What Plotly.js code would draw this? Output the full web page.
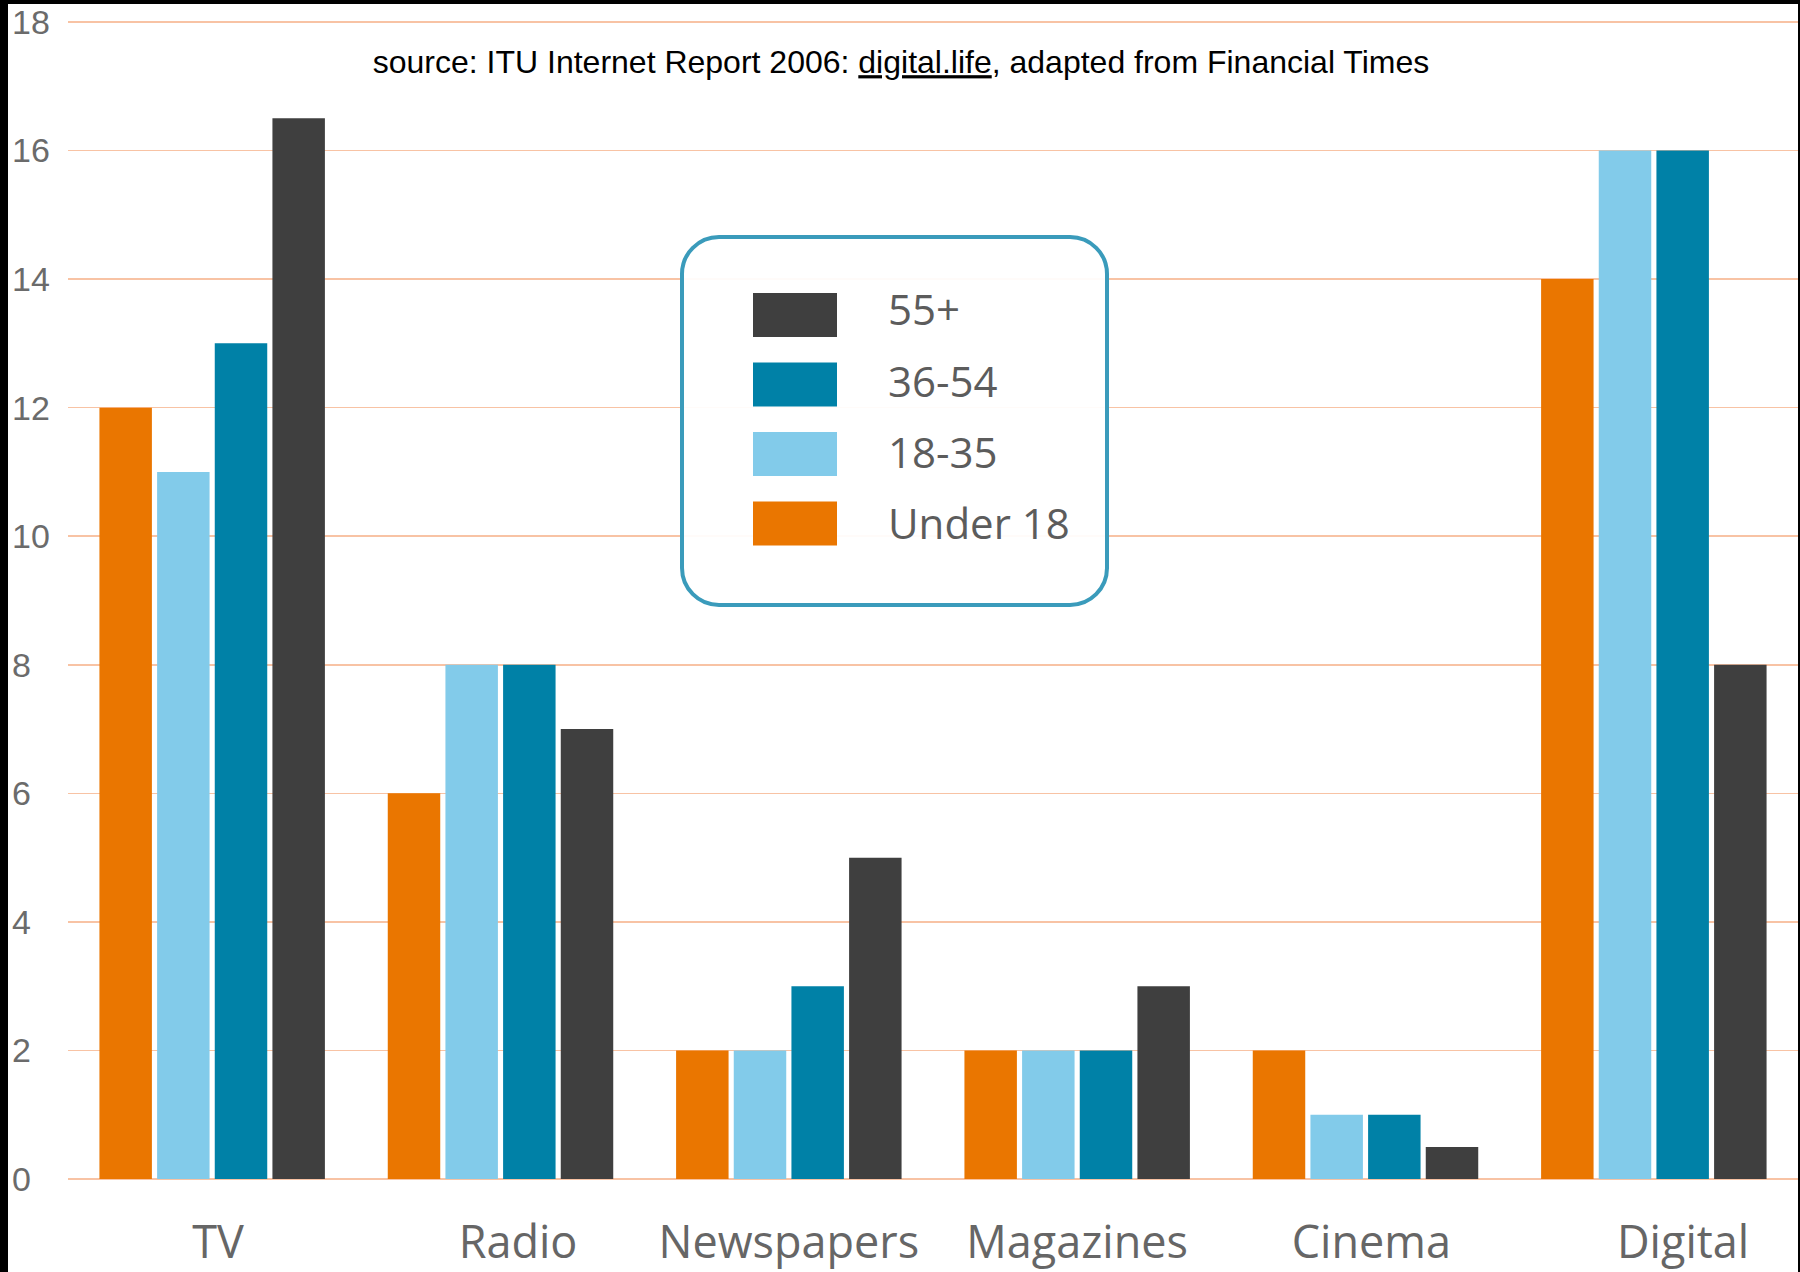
<!DOCTYPE html>
<html>
<head>
<meta charset="utf-8">
<script src="https://cdn.plot.ly/plotly-3.0.1.min.js"></script>
<style>
  html, body { margin: 0; padding: 0; background: #000; width: 1800px; height: 1272px; overflow: hidden; }
  #chart { position: absolute; left: 8px; top: 4px; width: 1790px; height: 1268px; }
</style>
</head>
<body>
<div id="chart"></div>
<script>
// ---- data ----
const categories = ["TV", "Radio", "Newspapers", "Magazines", "Cinema", "Digital"];
const seriesNames = ["Under 18", "18-35", "36-54", "55+"];
const under18 = [12, 6, 2, 2, 2, 14];
const age18to35 = [11, 8, 2, 2, 1, 16];
const age36to54 = [13, 8, 3, 2, 1, 16];
const age55plus = [16.5, 7, 5, 3, 0.5, 8];
const seriesColors = ["#ea7600", "#82cbea", "#0081a7", "#3f3f3f"];
const yTickVals = [0, 2, 4, 6, 8, 10, 12, 14, 16, 18];

const seriesValues = [under18, age18to35, age36to54, age55plus];

const traces = seriesNames.map((name, i) => ({
  type: "bar",
  name: name,
  x: categories,
  y: seriesValues[i],
  marker: { color: seriesColors[i], line: { width: 0 } },
  showlegend: false,
  hoverinfo: "x+y+name"
}));

// ---- geometry (pixels within the chart div) ----
const W = 1790, H = 1268;
const plotL = 60, plotT = 16, plotB = 1177;
const px = X => X / W;                        // paper x spans full width (margin l = r = 0)
const py = Y => (plotB - Y) / (plotB - plotT);

// small hand offsets of the category labels seen in the original (in non-breaking spaces)
const labelLead = [1, 3, 0, 0, 1, 5];
const tickText = categories.map((c, i) => "\u00a0".repeat(labelLead[i]) + c);

// rounded legend frame
const bx0 = 674, by0 = 233, bx1 = 1099, by1 = 601, r = 37, k = 0.5523;
function P(X, Y) { return px(X).toFixed(5) + "," + py(Y).toFixed(5); }
const framePath =
  "M" + P(bx0 + r, by0) +
  " L" + P(bx1 - r, by0) +
  " C" + P(bx1 - r + r * k, by0) + " " + P(bx1, by0 + r - r * k) + " " + P(bx1, by0 + r) +
  " L" + P(bx1, by1 - r) +
  " C" + P(bx1, by1 - r + r * k) + " " + P(bx1 - r + r * k, by1) + " " + P(bx1 - r, by1) +
  " L" + P(bx0 + r, by1) +
  " C" + P(bx0 + r - r * k, by1) + " " + P(bx0, by1 - r + r * k) + " " + P(bx0, by1 - r) +
  " L" + P(bx0, by0 + r) +
  " C" + P(bx0, by0 + r - r * k) + " " + P(bx0 + r - r * k, by0) + " " + P(bx0 + r, by0) + " Z";

const shapes = [{
  type: "path", xref: "paper", yref: "paper", path: framePath,
  fillcolor: "rgba(255,255,255,0.93)", line: { color: "#3a9bbb", width: 4 }, layer: "above"
}];
const annotations = [];
const swX0 = 745, swX1 = 829, swH = 44, rowTop0 = 289, rowPitch = 69.5;
const textY0 = 305, textPitch = 71;
// legend rows: top row is last series (55+)
for (let j = 0; j < seriesNames.length; j++) {
  const i = seriesNames.length - 1 - j;
  const top = rowTop0 + j * rowPitch;
  shapes.push({
    type: "rect", xref: "paper", yref: "paper",
    x0: px(swX0), x1: px(swX1), y0: py(top + swH), y1: py(top),
    fillcolor: seriesColors[i], line: { width: 0 }, layer: "above"
  });
  annotations.push({
    xref: "paper", yref: "paper", x: px(878), y: py(textY0 + j * textPitch),
    xanchor: "left", yanchor: "middle", showarrow: false,
    text: seriesNames[i],
    font: { family: "Open Sans, Noto Sans, sans-serif", size: 42, color: "#5c5c5c" }
  });
}

const layout = {
  width: W, height: H,
  paper_bgcolor: "#ffffff", plot_bgcolor: "#ffffff",
  margin: { l: 0, r: 0, t: plotT, b: H - plotB, pad: 0 },
  showlegend: false,
  barmode: "group",
  bargap: 0.2,
  bargroupgap: 0.09,
  title: {
    text: "source: ITU Internet Report 2006: <span style='text-decoration:underline'>digital.life</span>, adapted from Financial Times",
    xref: "container", yref: "container", x: 893 / W, y: 1 - 58 / H,
    xanchor: "center", yanchor: "middle",
    font: { family: "Liberation Sans, Arial, sans-serif", size: 32, color: "#000000" }
  },
  xaxis: {
    type: "category",
    domain: [plotL / W, 1],
    showgrid: false, showline: false, zeroline: false,
    ticks: "",
    tickmode: "array",
    tickvals: categories,
    ticktext: tickText,
    ticklabelstandoff: 31,
    tickfont: { family: "Open Sans, Noto Sans, sans-serif", size: 45, color: "#666666" },
    fixedrange: true
  },
  yaxis: {
    range: [-0.03, 18.03],
    anchor: "free", position: 0,
    tickvals: yTickVals,
    ticktext: yTickVals.map(String),
    ticklabelposition: "inside",
    ticklabeloverflow: "allow",
    ticks: "",
    showline: false,
    showgrid: true, gridcolor: "#f8c3a4", gridwidth: 1.5,
    zeroline: true, zerolinecolor: "#f8c3a4", zerolinewidth: 1.5,
    tickfont: { family: "Liberation Sans, Arial, sans-serif", size: 34, color: "#6b6b6b" },
    fixedrange: true
  },
  shapes: shapes,
  annotations: annotations
};

Plotly.newPlot("chart", traces, layout, { displayModeBar: false, staticPlot: true });
</script>
</body>
</html>
